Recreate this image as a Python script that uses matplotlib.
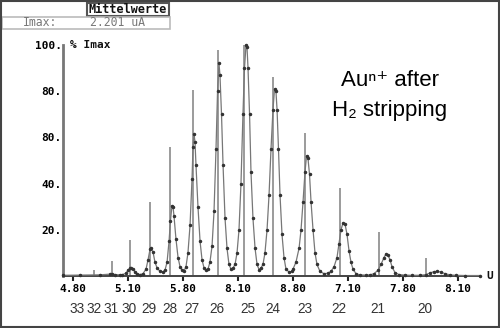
import matplotlib
matplotlib.use("Agg")
import matplotlib.pyplot as plt
from matplotlib.patches import Rectangle
import matplotlib.transforms as mtransforms
from matplotlib import font_manager

# ---- data ----
curve_v = [4.509, 4.664, 4.845, 4.936, 4.955, 4.982, 5.027,
           5.045, 5.082, 5.100, 5.118, 5.127, 5.145, 5.164, 5.182, 5.209,
           5.236, 5.264, 5.282, 5.300, 5.309, 5.327, 5.345, 5.364, 5.391, 5.418,
           5.436, 5.455, 5.473, 5.486, 5.500, 5.509, 5.518, 5.536, 5.555, 5.573, 5.591, 5.609,
           5.627, 5.645, 5.664, 5.682, 5.691, 5.700, 5.709, 5.718, 5.736, 5.755, 5.773, 5.791, 5.809,
           5.827, 5.845, 5.864, 5.882, 5.900, 5.914, 5.927, 5.936, 5.950, 5.964, 5.982, 6.000, 6.018, 6.036, 6.055,
           6.073, 6.091, 6.109, 6.127, 6.145, 6.159, 6.173, 6.182, 6.191, 6.205, 6.218, 6.236, 6.255, 6.273, 6.291, 6.309,
           6.327, 6.345, 6.364, 6.382, 6.400, 6.418, 6.432, 6.445, 6.455, 6.468, 6.482, 6.500, 6.518, 6.536, 6.564, 6.591,
           6.600, 6.627, 6.655, 6.673, 6.691, 6.709, 6.723, 6.736, 6.750, 6.764, 6.782, 6.800, 6.818, 6.845, 6.882, 6.918,
           6.945, 6.973, 7.000, 7.018, 7.036, 7.055, 7.073, 7.091, 7.109, 7.127, 7.145, 7.173, 7.209, 7.264,
           7.300, 7.336, 7.373, 7.400, 7.427, 7.445, 7.464, 7.482, 7.500, 7.527, 7.564, 7.618,
           7.682, 7.755, 7.809, 7.845, 7.882, 7.909, 7.945, 7.982, 8.027, 8.082, 8.164, 8.300]
curve_pct = [0.3, 0.4, 0.5, 0.8, 1.0, 0.6, 0.5,
             0.5, 1.2, 2.5, 3.4, 3.5, 3.0, 1.8, 1.0, 0.6,
             1.0, 3.0, 7.0, 11.5, 12.0, 10.5, 6.0, 3.5, 2.0, 1.8,
             2.5, 6.0, 15, 24, 30.5, 30, 26, 16, 8, 4, 2.5, 2.2,
             4, 10, 22, 42, 56, 61.5, 58, 48, 30, 15, 7, 3.5, 2.6,
             3, 6, 13, 28, 55, 80, 92, 87, 70, 48, 25, 12, 5, 3, 3.5,
             5, 10, 20, 40, 70, 90, 100, 99, 90, 70, 45, 25, 12, 5, 2.8, 3.5,
             5, 10, 20, 35, 55, 72, 81, 80, 72, 55, 35, 18, 8, 3, 1.7, 2,
             3, 6, 12, 20, 32, 45, 52, 51, 44, 32, 20, 10, 5, 2, 1, 1.2,
             2, 4, 8, 14, 20, 23, 22.5, 18, 11, 6, 3, 1, 0.5, 0.4,
             0.5, 1, 2.5, 5, 8, 9.5, 9, 7, 4, 1.5, 0.6, 0.4,
             0.3, 0.3, 0.6, 1.3, 1.9, 2.0, 1.7, 1.0, 0.5, 0.3, 0.2, 0.2]

stick_v = [4.791, 4.955, 5.118, 5.300, 5.482, 5.691, 5.918, 6.155, 6.418, 6.709, 7.023, 7.382, 7.809]
stick_pct = [2.5, 6.5, 15.6, 32, 56, 80.5, 98, 100, 86, 62, 38, 19, 8]

cluster_n = ['33', '32', '31', '30', '29', '28', '27', '26', '25', '24', '23', '22', '21', '20']
cluster_v = [4.636, 4.791, 4.945, 5.109, 5.291, 5.482, 5.682, 5.909, 6.191, 6.418, 6.709, 7.018, 7.373, 7.800]

xtick_vals = [4.6, 5.1, 5.6, 6.1, 6.6, 7.1, 7.6, 8.1]
xtick_labels = ['4.80', '5.10', '5.80', '8.10', '8.80', '7.10', '7.80', '8.10']
ytick_vals = [20, 40, 60, 80, 100]
ytick_labels = ['20.', '40.', '80.', '80.', '100.']

W, H = 500, 328
fig = plt.figure(figsize=(W / 100, H / 100), dpi=100)
fig.patch.set_facecolor('white')

def fx(px):
    return px / W

def fy(py):
    return 1 - py / H

ax = fig.add_axes([fx(63), fy(276), fx(480) - fx(63), fy(45) - fy(276)])
ax.set_xlim(4.509, 8.30)
ax.set_ylim(0, 100)
ax.set_facecolor('white')

ax.vlines(stick_v, 0, stick_pct, color='#8a8a8a', lw=1.2, zorder=2, clip_on=False)
ax.plot(curve_v, curve_pct, color='#777777', lw=0.9, marker='o', ms=1.5,
        mfc='#333333', mec='#333333', zorder=3, clip_on=False)

for s in ['top', 'right']:
    ax.spines[s].set_visible(False)
ax.spines['left'].set_color('#777777')
ax.spines['left'].set_linewidth(2)
ax.spines['bottom'].set_color('#444444')
ax.spines['bottom'].set_linewidth(1.4)

mono = 'DejaVu Sans Mono'
ax.set_xticks(xtick_vals)
ax.set_xticklabels(xtick_labels, fontfamily=mono, fontweight='bold', fontsize=8)
ax.set_yticks(ytick_vals)
ax.set_yticklabels(ytick_labels, fontfamily=mono, fontweight='bold', fontsize=8)
ax.tick_params(axis='x', direction='out', length=3.5, width=1.5, color='#222222', pad=2)
ax.tick_params(axis='y', length=0, pad=1)

trans = mtransforms.blended_transform_factory(ax.transData, ax.transAxes)
for n, v in zip(cluster_n, cluster_v):
    ax.text(v, -0.145, n, transform=trans, ha='center', va='center',
            fontsize=9.8, color='#333333', family='Liberation Sans')

fig.text(fx(70), fy(45), '% Imax', fontfamily=mono, fontweight='bold', fontsize=8,
         ha='left', va='center', color='#111111')
fig.text(fx(486), fy(276), 'U', fontfamily=mono, fontweight='bold', fontsize=8,
         ha='left', va='center', color='#111111')

# header boxes
fig.patches.append(Rectangle((fx(87), fy(16)), fx(169) - fx(87), fy(3) - fy(16),
                             transform=fig.transFigure, fill=False,
                             edgecolor='#555555', lw=1.5))
fig.text(fx(128), fy(9.5), 'Mittelwerte', fontfamily=mono, fontweight='bold',
         fontsize=8.5, ha='center', va='center', color='#111111')
fig.patches.append(Rectangle((fx(2), fy(29)), fx(170) - fx(2), fy(17) - fy(29),
                             transform=fig.transFigure, fill=False,
                             edgecolor='#bbbbbb', lw=1.2))
fig.text(fx(23), fy(23), 'Imax:', fontfamily=mono, fontsize=8.3,
         ha='left', va='center', color='#777777')
fig.text(fx(90), fy(23), '2.201 uA', fontfamily=mono, fontsize=8.3,
         ha='left', va='center', color='#777777')

# outer frame
fig.patches.append(Rectangle((0.002, 0.003), 0.995, 0.994, transform=fig.transFigure,
                             fill=False, edgecolor='#444444', lw=1.5))

fam = ['Liberation Sans', 'DejaVu Sans']
fig.text(fx(390), fy(81), 'Au\u207f\u207a after', fontsize=16,
         family=fam, ha='center', va='center', color='black')
fig.text(fx(390), fy(110), 'H\u2082 stripping', fontsize=16,
         family=fam, ha='center', va='center', color='black')

fig.savefig('out.png', dpi=100)
